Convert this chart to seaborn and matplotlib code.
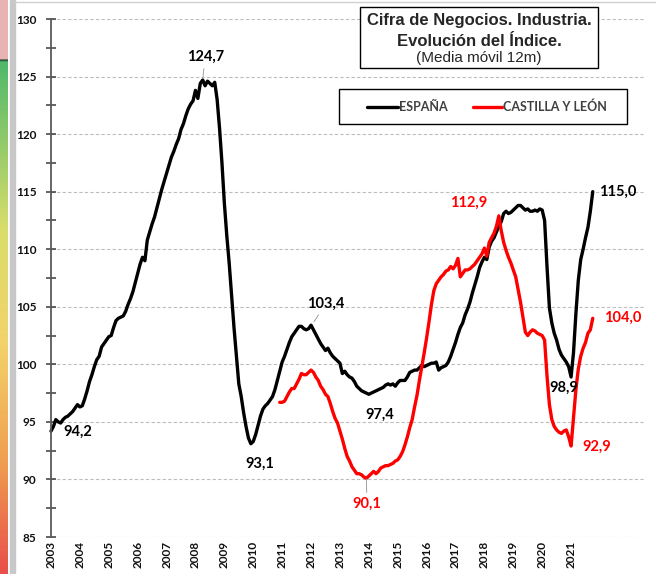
import numpy as np
import pandas as pd
import matplotlib
matplotlib.use('Agg')
import matplotlib.pyplot as plt
import seaborn as sns
from matplotlib.patches import Rectangle
from matplotlib.lines import Line2D
from matplotlib.colors import LinearSegmentedColormap

# Monthly 12m moving average, index = months since Jan 2003
years = list(range(2003, 2022))

espana = [
    94.2, 94.6, 95.2, 95.0, 94.9, 95.2, 95.4, 95.5, 95.7, 95.9, 96.2, 96.5,
    96.3, 96.4, 97.0, 97.7, 98.5, 99.1, 99.8, 100.4, 100.7, 101.5, 101.8, 102.1,
    102.4, 102.5, 103.2, 103.8, 104.0, 104.1, 104.2, 104.6, 105.2, 105.7, 106.3, 107.1,
    107.9, 108.7, 109.3, 109.0, 110.8, 111.5, 112.2, 112.8, 113.6, 114.4, 115.2, 115.9,
    116.6, 117.3, 118.0, 118.5, 119.1, 119.6, 120.4, 120.9, 121.6, 122.2, 122.6, 122.9,
    123.8, 123.1, 124.4, 124.7, 124.2, 124.6, 124.4, 124.2, 124.5, 123.0, 120.5, 117.5,
    114.0, 111.2, 108.8, 106.0, 103.2, 100.8, 98.3, 97.2, 95.8, 94.6, 93.6, 93.1,
    93.3, 93.9, 94.7, 95.5, 96.1, 96.4, 96.6, 96.9, 97.2, 97.8, 98.6, 99.4,
    100.2, 100.7, 101.3, 101.9, 102.4, 102.7, 103.0, 103.3, 103.3, 103.1, 103.0, 103.1,
    103.4, 103.0, 102.6, 102.2, 101.8, 101.5, 101.2, 101.4, 101.0, 100.7, 100.5, 100.3,
    100.1, 99.2, 99.4, 99.1, 98.9, 98.8, 98.5, 98.1, 97.9, 97.7, 97.6, 97.5,
    97.4, 97.5, 97.6, 97.7, 97.8, 97.9, 98.0, 98.2, 98.3, 98.2, 98.3, 98.1,
    98.4, 98.6, 98.6, 98.6, 98.9, 99.3, 99.4, 99.5, 99.5, 99.7, 99.9, 99.8,
    99.9, 100.0, 100.1, 100.1, 100.2, 99.5, 99.7, 99.8, 99.9, 100.2, 100.7, 101.3,
    101.9, 102.6, 103.2, 103.6, 104.3, 104.8, 105.4, 106.2, 106.9, 107.6, 108.4, 108.9,
    109.3, 109.1, 110.2, 110.7, 111.0, 111.5, 112.0, 112.4, 113.1, 113.3, 113.1, 113.2,
    113.4, 113.6, 113.8, 113.8, 113.6, 113.4, 113.5, 113.3, 113.3, 113.4, 113.3, 113.5,
    113.4, 112.5, 108.5, 104.9, 103.6, 102.7, 102.1, 101.3, 100.8, 100.5, 100.2, 99.8,
    98.9, 101.0, 104.4, 107.3, 109.1, 110.0, 111.0, 111.9, 113.3, 115.0,
]

cyl_start = 95  # first month with data for Castilla y León
cyl = [
    96.7, 96.7, 96.8, 97.2, 97.6, 97.9, 97.9, 98.3, 98.7, 99.2, 99.1, 99.1, 99.3,
    99.5, 99.3, 98.9, 98.6, 98.1, 97.8, 97.4, 97.2, 96.6, 95.9, 95.3, 94.9,
    94.2, 93.5, 92.7, 92.0, 91.6, 91.1, 90.8, 90.5, 90.5, 90.4, 90.2, 90.1,
    90.3, 90.5, 90.7, 90.5, 90.7, 91.0, 91.1, 91.2, 91.2, 91.3, 91.4, 91.6,
    91.7, 92.0, 92.4, 93.0, 93.7, 94.5, 95.2, 96.3, 97.3, 98.6, 99.8, 101.0,
    102.3, 103.7, 105.2, 106.4, 107.0, 107.3, 107.6, 107.8, 108.1, 108.2, 108.5, 108.3,
    108.6, 109.2, 107.6, 107.9, 108.2, 108.2, 108.3, 108.5, 108.7, 109.0, 109.3, 109.6,
    110.1, 109.4, 110.6, 111.0, 111.4, 112.0, 112.9, 111.6, 110.6, 109.9, 109.3, 108.8,
    108.2, 107.6, 106.5, 105.4, 104.1, 102.8, 102.5, 102.8, 103.0, 102.9, 102.7, 102.6,
    102.5, 102.1, 99.0, 96.5, 95.2, 94.6, 94.3, 94.1, 94.0, 94.2, 94.3, 93.7,
    92.9, 95.3, 97.8, 99.6, 100.7, 101.4, 101.9, 102.7, 103.0, 104.0,
]

# value labels: text, month position, value, color, (has leader line -> point)
labels_esp = [('124,7', 64.0, 126.7, (63, 124.7)), ('94,2', 11.2, 94.1, None),
              ('93,1', 86.8, 91.4, None), ('103,4', 114.2, 105.3, (108.6, 103.5)),
              ('97,4', 136.6, 95.6, None), ('98,9', 213.1, 98.0, None),
              ('115,0', 235.5, 115.0, None)]
labels_cyl = [('90,1', 131.2, 87.85, (131, 90.3)), ('112,9', 173.6, 114.0, None),
              ('104,0', 237.6, 104.0, None), ('92,9', 226.8, 92.8, None)]

df_esp = pd.DataFrame({'mes': np.arange(len(espana)), 'valor': espana})
df_cyl = pd.DataFrame({'mes': np.arange(cyl_start, cyl_start + len(cyl)), 'valor': cyl})

sns.set_theme(style='white')
plt.rcParams['font.family'] = ['Lato', 'DejaVu Sans']

W, H = 656, 574
fig = plt.figure(figsize=(W / 100, H / 100), dpi=100)
fig.patch.set_facecolor('white')

def fx(x):
    return x / W

def fy(y):
    return 1 - y / H

# side strip of the screenshot
cmap = LinearSegmentedColormap.from_list(
    'strip', [(0, '#e9b3b3'), (0.099, '#e9b3b3'), (0.1, '#1a1a1a'), (0.105, '#4fb86a'),
              (0.4, '#d9de6a'), (0.6, '#f3d26a'), (0.8, '#f0a050'), (1, '#e8504a')])
sax = fig.add_axes([0, 0, 8 / W, 1])
sax.imshow(np.linspace(0, 1, 300).reshape(-1, 1), aspect='auto', cmap=cmap)
sax.axis('off')
fig.add_artist(Rectangle((fx(10), 0), 5 / W, 1, transform=fig.transFigure,
                         color='#c8c8c8', zorder=0))
fig.add_artist(Line2D([fx(14), 1], [fy(2), fy(2)], transform=fig.transFigure,
                      color='#d0d0d0', lw=1))

ax = fig.add_axes([fx(51), fy(537), 594 / W, 518 / H])
sns.lineplot(data=df_esp, x='mes', y='valor', color='black', lw=2.4, ax=ax)
sns.lineplot(data=df_cyl, x='mes', y='valor', color='#ff0000', lw=2.4, ax=ax)
for ln in ax.lines:
    ln.set_clip_on(False)

ax.set_xlim(0, 246.7)
ax.set_ylim(85, 130)
ax.set_yticks(range(85, 131, 5))
ax.set_yticks(np.arange(87.5, 130, 5), minor=True)
ax.set_xticks([12 * i for i in range(len(years))])
ax.set_xticklabels([str(y) for y in years], rotation=90, fontsize=8.5, fontweight='bold')
ax.set_yticklabels([str(v) for v in range(85, 131, 5)], fontsize=8.5, fontweight='bold')
ax.set_xlabel('')
ax.set_ylabel('')
ax.yaxis.grid(True, linestyle=(0, (3, 2)), color='#bdbdbd', lw=0.8)
ax.xaxis.grid(False)
for s in ['top', 'right', 'bottom']:
    ax.spines[s].set_visible(False)
ax.spines['left'].set_color('#5a5a5a')
ax.spines['left'].set_linewidth(1.3)
ax.tick_params(axis='y', which='both', direction='inout', length=7, width=1.1,
               color='#3a3a3a', left=True, pad=7, labelcolor='#111111')
ax.tick_params(axis='x', length=0, pad=3, labelcolor='#111111')

for txt, m, v, pt in labels_esp:
    if pt is None:
        ax.text(m, v, txt, color='black', fontsize=10.5, fontweight='bold',
                ha='center', va='center')
    else:
        ax.annotate(txt, xy=pt, xytext=(m, v), color='black', fontsize=10.5,
                    fontweight='bold', ha='center', va='center',
                    arrowprops=dict(arrowstyle='-', color='#909090', lw=0.6,
                                    shrinkA=1, shrinkB=2))
for txt, m, v, pt in labels_cyl:
    if pt is None:
        ax.text(m, v, txt, color='#ff0000', fontsize=10.5, fontweight='bold',
                ha='center', va='center')
    else:
        ax.annotate(txt, xy=pt, xytext=(m, v), color='#ff0000', fontsize=10.5,
                    fontweight='bold', ha='center', va='center',
                    arrowprops=dict(arrowstyle='-', color='#909090', lw=0.6,
                                    shrinkA=1, shrinkB=2))

# title box
fig.add_artist(Rectangle((fx(360), fy(68)), 238 / W, 61 / H, transform=fig.transFigure,
                         facecolor='white', edgecolor='black', lw=1, zorder=5))
fig.text(fx(479), fy(21), 'Cifra de Negocios. Industria.', ha='center', va='center',
         fontsize=12, fontweight='bold', family='Liberation Sans', zorder=6)
fig.text(fx(479), fy(41), 'Evolución del Índice.', ha='center', va='center',
         fontsize=12, fontweight='bold', family='Liberation Sans', zorder=6)
fig.text(fx(479), fy(58), '(Media móvil 12m)', ha='center', va='center',
         fontsize=11, family='Liberation Sans', zorder=6)

# legend box
fig.add_artist(Rectangle((fx(339), fy(124)), 288 / W, 35 / H, transform=fig.transFigure,
                         facecolor='white', edgecolor='black', lw=1, zorder=5))
fig.add_artist(Line2D([fx(367), fx(398)], [fy(107), fy(107)], transform=fig.transFigure,
                      color='black', lw=2.4, zorder=6))
fig.add_artist(Line2D([fx(473), fx(502)], [fy(107), fy(107)], transform=fig.transFigure,
                      color='#ff0000', lw=2.4, zorder=6))
fig.text(fx(399), fy(107), 'ESPAÑA', ha='left', va='center', fontsize=9,
         fontweight='bold', color='#404040', zorder=6)
fig.text(fx(503), fy(107), 'CASTILLA Y LEÓN', ha='left', va='center', fontsize=9,
         fontweight='bold', color='#404040', zorder=6)

fig.savefig('out.png', dpi=100)
